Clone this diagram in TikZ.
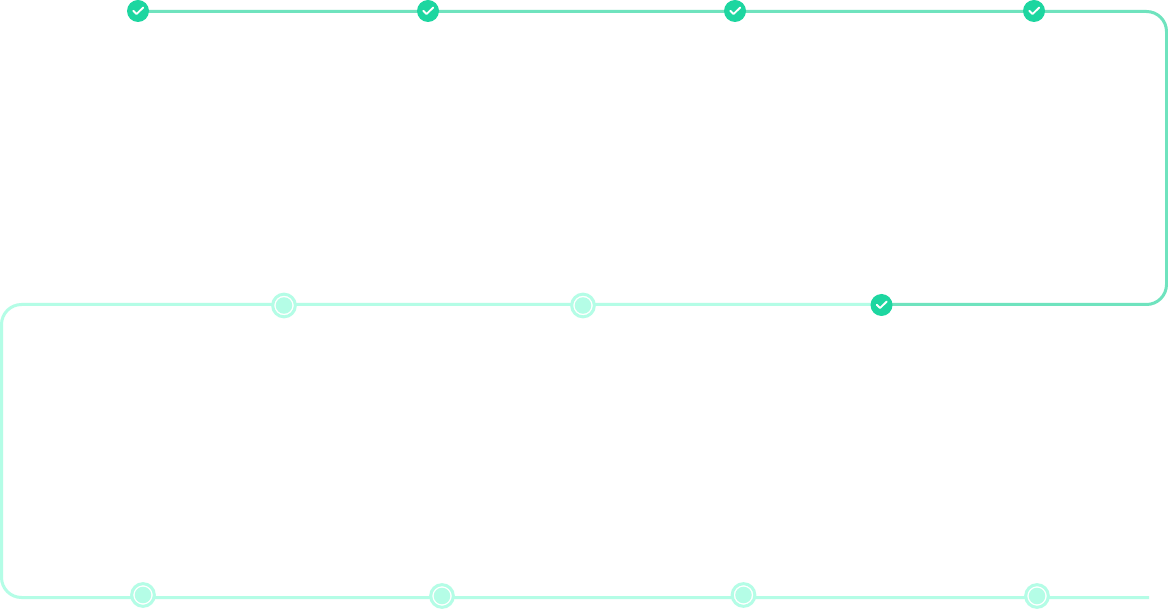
\documentclass[tikz,border=0pt]{standalone}
\usetikzlibrary{backgrounds}
\definecolor{donefill}{HTML}{1DD6A0}
\definecolor{doneline}{HTML}{6FE3BE}
\definecolor{todoline}{HTML}{B4FDE6}
\tikzset{
  x=0.75pt,y=-0.75pt,
  doneNode/.style={circle,fill=donefill,draw=none,minimum size=16.5pt,inner sep=0pt,
    path picture={\draw[white,line width=1.4pt,line cap=round,line join=round]
      ([shift={(-3.6pt,0.2pt)}]path picture bounding box.center)
      -- ([shift={(-1.1pt,-2.3pt)}]path picture bounding box.center)
      -- ([shift={(3.9pt,2.6pt)}]path picture bounding box.center);}},
  todoNode/.style={circle,fill=white,draw=todoline,line width=2.25pt,minimum size=17pt,inner sep=0pt,
    path picture={\fill[todoline] (path picture bounding box.center) circle[radius=6.2pt];}},
  doneLink/.style={draw=doneline,line width=2.25pt,rounded corners=15pt,line cap=butt},
  todoLink/.style={draw=todoline,line width=2.25pt,rounded corners=15pt,line cap=butt},
}
\begin{document}
\begin{tikzpicture}
\useasboundingbox (0,0) rectangle (1168,609);
\node[doneNode] (a1) at (138,11) {};
\node[doneNode] (a2) at (428,11) {};
\node[doneNode] (a3) at (735,11) {};
\node[doneNode] (a4) at (1034,11) {};
\node[doneNode] (b1) at (881.5,305) {};
\node[todoNode] (b2) at (583,305.5) {};
\node[todoNode] (b3) at (284,305.5) {};
\node[todoNode] (c1) at (143,595) {};
\node[todoNode] (c2) at (442,596) {};
\node[todoNode] (c3) at (743.5,595) {};
\node[todoNode] (c4) at (1037,596) {};
\coordinate (tr) at (1166.5,11.5);
\coordinate (br) at (1166.5,304.5);
\coordinate (tl) at (1.5,304.5);
\coordinate (bl) at (1.5,597.5);
\coordinate (endp) at (1149,597.5);
\begin{scope}[on background layer]
\fill[white] (0,0) rectangle (1168,609);
\draw[doneLink] (a1.center |- tr) -- (a2.center |- tr) -- (a3.center |- tr) -- (a4.center |- tr) -- (tr) -- (br) -- (b1.center |- br);
\draw[todoLink] (b1.center |- br) -- (b2.center |- br) -- (b3.center |- br) -- (tl) -- (bl) -- (c1.center |- bl) -- (c2.center |- bl) -- (c3.center |- bl) -- (c4.center |- bl) -- (endp);
\end{scope}
\end{tikzpicture}
\end{document}
